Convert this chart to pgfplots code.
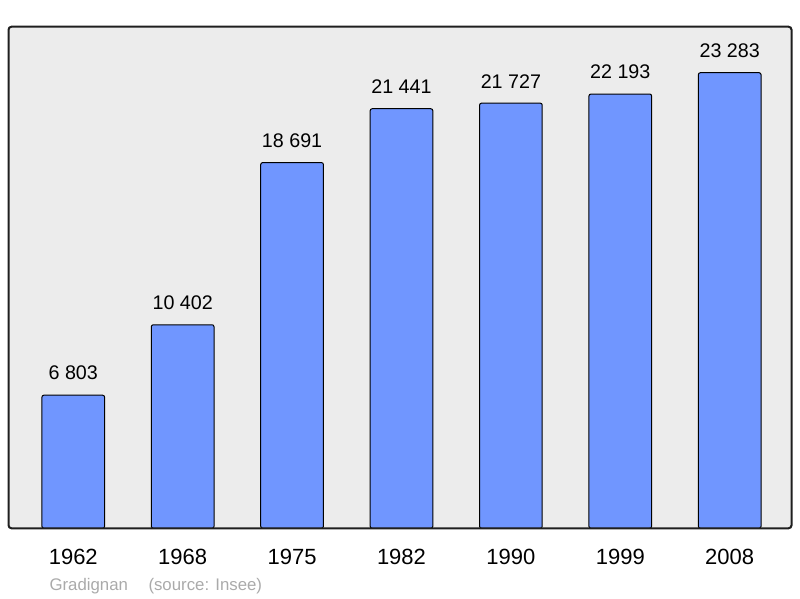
\documentclass[border=0pt]{standalone}
\usepackage{pgfplots}
\pgfplotsset{compat=1.18}
\usepackage{fontspec}
\setmainfont{Liberation Sans}
\definecolor{barcol}{RGB}{112,150,255}
\definecolor{bgcol}{RGB}{236,236,236}
\definecolor{footcol}{RGB}{170,170,170}
\begin{document}
\begin{tikzpicture}
\path[use as bounding box] (-8.5pt,-69.7pt) rectangle (791.5pt,528.3pt);
\begin{axis}[
  at={(0,0)}, anchor=south west,
  width=783pt, height=501.6pt, scale only axis,
  xmin=-0.592, xmax=6.565, ymin=0, ymax=25634,
  ytick=\empty,
  xtick={0,1,2,3,4,5,6},
  xticklabels={1962,1968,1975,1982,1990,1999,2008},
  major tick length=0pt,
  axis line style={draw=none},
  axis background/.style={fill=bgcol},
  xticklabel style={font=\fontsize{22}{26}\selectfont, inner sep=0pt, anchor=north, yshift=-20.5pt},
  clip=false,
  ybar, bar width=0.573,
  nodes near coords,
  point meta=explicit symbolic,
  nodes near coords style={font=\fontsize{19.7}{24}\selectfont, inner sep=0pt, anchor=south, yshift=14.5pt},
]
\addplot[fill=barcol, draw=black, line width=1pt, rounded corners=2pt] coordinates {
  (0,6803) [6~803]
  (1,10402) [10~402]
  (2,18691) [18~691]
  (3,21441) [21~441]
  (4,21727) [21~727]
  (5,22193) [22~193]
  (6,23283) [23~283]
};
\draw[line width=2pt, rounded corners=3pt, color=black!88] (rel axis cs:0,0) rectangle (rel axis cs:1,1);
\end{axis}
\node[anchor=base west, inner sep=0pt, font=\fontsize{16.8}{20}\selectfont, text=footcol] at (40.8pt,-61.7pt) {Gradignan};
\node[anchor=base west, inner sep=0pt, font=\fontsize{16.8}{20}\selectfont, text=footcol] at (139.8pt,-61.7pt) {(source: Insee)};
\end{tikzpicture}
\end{document}
